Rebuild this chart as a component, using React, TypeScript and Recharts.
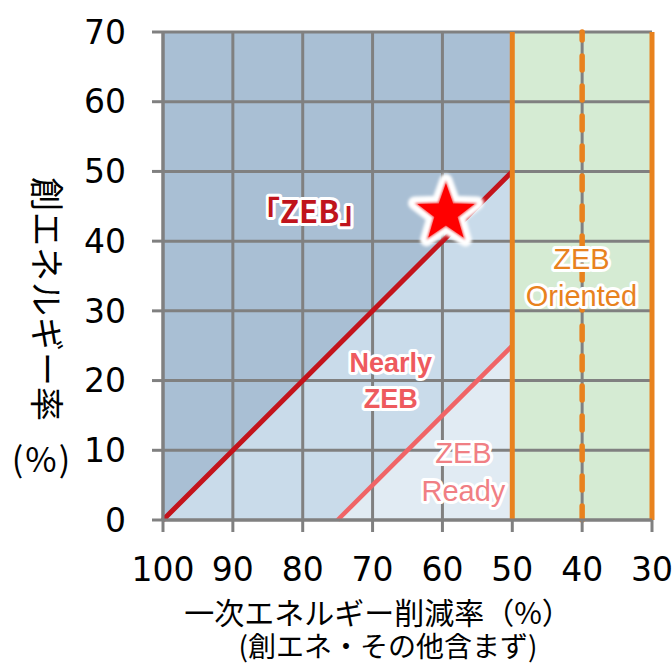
import React from "react";
import {
  ComposedChart, Area, Line, Scatter, XAxis, YAxis, CartesianGrid,
  ReferenceArea, ReferenceLine, ReferenceDot,
} from "recharts";

// 一次エネルギー削減率 (x) に対する創エネルギー率 (y) の境界
const reduction = [100, 75, 50];
const zebBoundary = [0, 25, 50];
const readyBoundary: (number | null)[] = [null, 0, 25];

const xTicks = [100, 90, 80, 70, 60, 50, 40, 30];
const yTicks = [0, 10, 20, 30, 40, 50, 60, 70];

const zebLimit = 50;
const orientedMid = 40;
const orientedLimit = 30;
const creationMax = 70;

const target = [{ x: 59.5, y: 44 }];

const zoneNames = [
  { id: "zeb", lines: ["「ZEB」"], x: 79, y: 44.2 },
  { id: "nearly", lines: ["Nearly", "ZEB"], x: 67.4, y: 20.1 },
  { id: "ready", lines: ["ZEB", "Ready"], x: 57, y: 7 },
  { id: "oriented", lines: ["ZEB", "Oriented"], x: 40.1, y: 34.9 },
];

const zoneStyle: Record<string, { fill: string; size: number; weight: number; gap: number; font: string }> = {
  zeb: { fill: "#c0141c", size: 31, weight: 700, gap: 0, font: "'Noto Sans CJK JP', sans-serif" },
  nearly: { fill: "#ee5a5e", size: 27, weight: 700, gap: 36, font: "'Liberation Sans', Arial, sans-serif" },
  ready: { fill: "#f07f84", size: 29, weight: 400, gap: 38, font: "'Liberation Sans', Arial, sans-serif" },
  oriented: { fill: "#e8821e", size: 29, weight: 400, gap: 37, font: "'Liberation Sans', Arial, sans-serif" },
};

const rows = reduction.map((x, i) => ({
  x,
  zeb: zebBoundary[i],
  ready: readyBoundary[i],
  upper: [zebBoundary[i], creationMax],
  lower: readyBoundary[i] == null ? null : [0, readyBoundary[i]],
}));

const GRID = "#808080";
const ORANGE = "#e8821e";
const tickFont = { fontSize: 33, fill: "#000", fontFamily: "'DejaVu Sans', sans-serif" };
const jpFont = "'Noto Sans CJK JP', sans-serif";

function starPoints(cx: number, cy: number, R: number, r: number) {
  const pts: string[] = [];
  for (let i = 0; i < 10; i++) {
    const a = -Math.PI / 2 + (i * Math.PI) / 5;
    const rad = i % 2 === 0 ? R : r;
    pts.push(`${cx + rad * Math.cos(a)},${cy + rad * Math.sin(a)}`);
  }
  return pts.join(" ");
}

function Star(props: any) {
  const { cx, cy } = props;
  if (cx == null || cy == null) return null;
  return (
    <g>
      <defs>
        <filter id="starGlow" x="-50%" y="-50%" width="200%" height="200%">
          <feGaussianBlur stdDeviation="1.4" />
        </filter>
        <filter id="starSoft" x="-50%" y="-50%" width="200%" height="200%">
          <feGaussianBlur stdDeviation="1" />
        </filter>
      </defs>
      <polygon
        points={starPoints(cx, cy, 33, 13.5)}
        fill="#fff"
        stroke="#fff"
        strokeWidth={13}
        strokeLinejoin="round"
        filter="url(#starGlow)"
      />
      <polygon points={starPoints(cx, cy, 33, 13.5)} fill="#f25b5b" filter="url(#starSoft)" />
      <polygon points={starPoints(cx, cy, 30, 12.2)} fill="#ff0000" />
    </g>
  );
}

function ZoneName({ cx, cy, id, lines }: { cx?: number; cy?: number; id: string; lines: string[] }) {
  if (cx == null || cy == null) return null;
  const s = zoneStyle[id];
  const top = cy - ((lines.length - 1) * s.gap) / 2;
  return (
    <text
      textAnchor="middle"
      fontFamily={s.font}
      fontSize={s.size}
      fontWeight={s.weight}
      fill={s.fill}
      stroke="#fff"
      strokeWidth={6}
      strokeLinejoin="round"
      paintOrder="stroke"
    >
      {lines.map((t, i) => (
        <tspan key={t} x={cx} y={top + i * s.gap + s.size * 0.36}>
          {t}
        </tspan>
      ))}
    </text>
  );
}

export default function App() {
  return (
    <div style={{ position: "absolute", left: 0, top: 0, width: 672, height: 665, background: "#fff" }}>
      <ComposedChart
        width={672}
        height={665}
        data={rows}
        margin={{ top: 32, right: 20, bottom: 0, left: 0 }}
      >
        <XAxis
          type="number"
          dataKey="x"
          domain={[orientedLimit, 100]}
          reversed
          ticks={xTicks}
          interval={0}
          height={145}
          tickSize={12}
          tickMargin={26}
          tick={tickFont}
          tickLine={{ stroke: GRID, strokeWidth: 3 }}
          axisLine={{ stroke: GRID, strokeWidth: 3 }}
        />
        <YAxis
          type="number"
          domain={[0, creationMax]}
          ticks={yTicks}
          interval={0}
          width={163}
          tickSize={11}
          tickMargin={26}
          tick={tickFont}
          tickLine={{ stroke: GRID, strokeWidth: 3 }}
          axisLine={{ stroke: GRID, strokeWidth: 3 }}
        />

        {/* zone fills */}
        <ReferenceArea x1={100} x2={zebLimit} y1={0} y2={creationMax} fill="#c9dbea" fillOpacity={1} stroke="none" zIndex={10} />
        <ReferenceArea x1={zebLimit} x2={orientedLimit} y1={0} y2={creationMax} fill="#d5ebd3" fillOpacity={1} stroke="none" zIndex={10} />
        <Area dataKey="upper" type="linear" fill="#a9bfd4" fillOpacity={1} stroke="none" isAnimationActive={false} zIndex={20} />
        <Area dataKey="lower" type="linear" fill="#e1ebf3" fillOpacity={1} stroke="none" isAnimationActive={false} zIndex={20} />

        <CartesianGrid stroke={GRID} strokeWidth={3} zIndex={30} />

        {/* boundaries */}
        <Line dataKey="zeb" type="linear" stroke="#c3141c" strokeWidth={5} dot={false} isAnimationActive={false} zIndex={40} />
        <Line dataKey="ready" type="linear" stroke="#f06466" strokeWidth={4.5} dot={false} isAnimationActive={false} zIndex={40} />
        <ReferenceLine x={zebLimit} stroke={ORANGE} strokeWidth={5} zIndex={50} />
        <ReferenceLine
          x={orientedMid}
          stroke={ORANGE}
          strokeWidth={5.5}
          strokeDasharray="14 16"
          strokeLinecap="round"
          zIndex={50}
        />
        <ReferenceLine x={orientedLimit} stroke={ORANGE} strokeWidth={5} zIndex={50} />

        <Scatter data={target} dataKey="y" shape={<Star />} isAnimationActive={false} zIndex={60} />

        {zoneNames.map((z) => (
          <ReferenceDot
            key={z.id}
            x={z.x}
            y={z.y}
            r={0}
            zIndex={70}
            shape={(p: any) => <ZoneName cx={p.cx} cy={p.cy} id={z.id} lines={z.lines} />}
          />
        ))}
      </ComposedChart>

      {/* axis titles */}
      <div
        style={{
          position: "absolute",
          left: 31,
          top: 177,
          writingMode: "vertical-rl",
          textOrientation: "sideways",
          fontFamily: jpFont,
          fontSize: 34,
          lineHeight: "34px",
          letterSpacing: 1,
          color: "#000",
        }}
      >
        創エネルギー率
      </div>
      <div
        style={{
          position: "absolute",
          left: 0,
          width: 84,
          top: 441,
          textAlign: "center",
          fontFamily: jpFont,
          fontSize: 34,
          lineHeight: "34px",
          letterSpacing: 2,
          color: "#000",
        }}
      >
        (%)
      </div>
      <div
        style={{
          position: "absolute",
          left: 178,
          width: 400,
          top: 595,
          textAlign: "center",
          fontFamily: jpFont,
          fontSize: 30,
          lineHeight: "32px",
          color: "#000",
          whiteSpace: "nowrap",
        }}
      >
        一次エネルギー削減率（%）
      </div>
      <div
        style={{
          position: "absolute",
          left: 188,
          width: 400,
          top: 630,
          textAlign: "center",
          fontFamily: jpFont,
          fontSize: 28,
          lineHeight: "30px",
          color: "#000",
          whiteSpace: "nowrap",
        }}
      >
        (創エネ・その他含まず)
      </div>
    </div>
  );
}
